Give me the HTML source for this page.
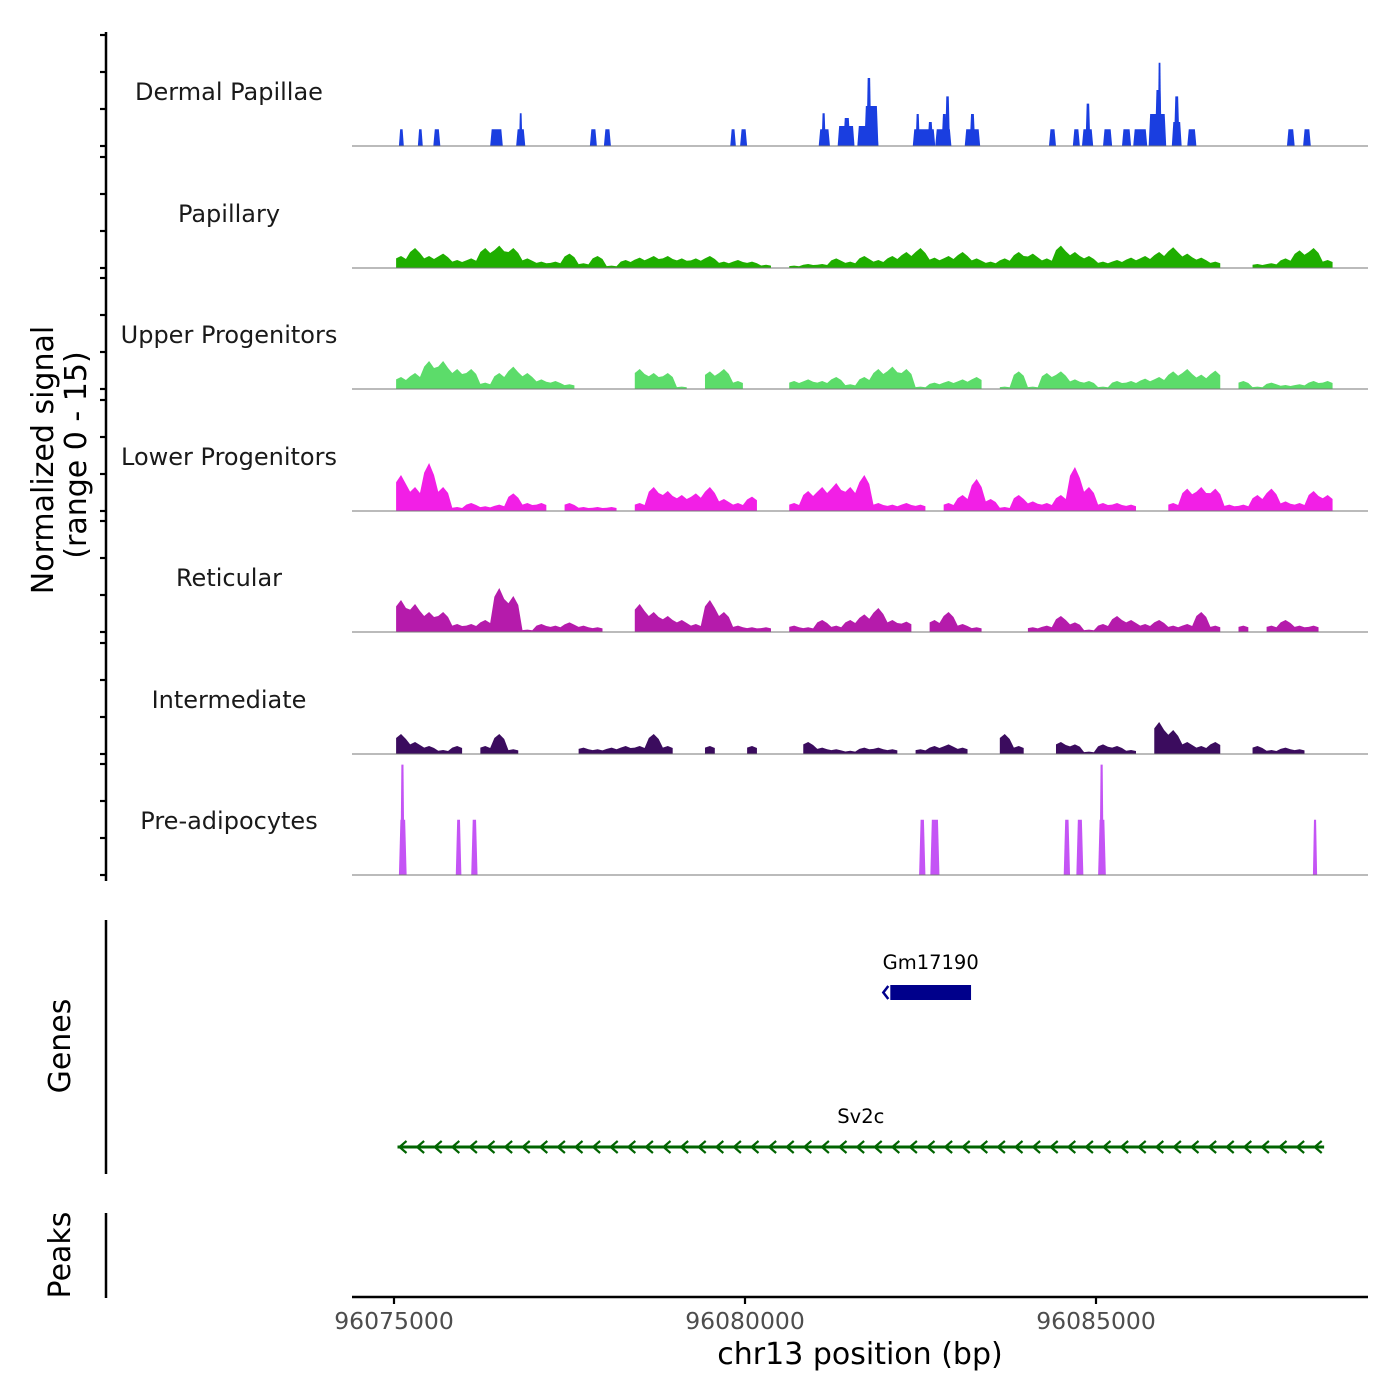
<!DOCTYPE html>
<html><head><meta charset="utf-8">
<style>
html,body{margin:0;padding:0;background:#fff;}
svg{display:block;font-family:"DejaVu Sans","Liberation Sans",sans-serif;}
</style></head>
<body>
<svg id="chart" width="1400" height="1400" viewBox="0 0 1400 1400" xmlns="http://www.w3.org/2000/svg">
  <g id="tracks"></g>
  <g id="axes"></g>
  <text transform="translate(53,460) rotate(-90)" text-anchor="middle" font-size="30" fill="#000">Normalized signal</text>
  <text transform="translate(86,455) rotate(-90)" text-anchor="middle" font-size="30" fill="#000">(range 0 - 15)</text>
  <text transform="translate(70,1046) rotate(-90)" text-anchor="middle" font-size="30" fill="#000">Genes</text>
  <text transform="translate(70,1255) rotate(-90)" text-anchor="middle" font-size="30" fill="#000">Peaks</text>
  <text x="860" y="1364" text-anchor="middle" font-size="30" fill="#000">chr13 position (bp)</text>
</svg>
<script>
// ---- data ----
const xTickValues = [96075000, 96080000, 96085000];
const yTickValues = [0, 4.625, 9.25, 13.875];
const trackNames = ["Dermal Papillae","Papillary","Upper Progenitors","Lower Progenitors","Reticular","Intermediate","Pre-adipocytes"];
const trackColors = ["#1a3ee0","#1fae00","#5cdc6a","#f21fe6","#b51bab","#3b0c5e","#c454f5"];
const binStartBp = 96075000;
const binSizeBp = 200;
const papillaryBins = [1.5,2.5,1.5,1.8,1,1.2,2.5,2.8,2.5,1.2,0.8,0.8,1.8,0.6,1.5,0.3,1,1.3,1.5,1.5,1.2,1.2,1.5,0.8,1,0.8,0.4,0,0.3,0.5,0.5,1.2,0.8,1.5,1,1.5,2,2.5,1.3,1.5,2,1.2,0.8,1.2,2,1.8,1.2,2.8,2,1.5,0.8,1,1.3,1.5,2,2.6,1.8,1.3,0.8,0,0,0.5,0.6,1.2,2.2,2.5,1];
const upperBins = [1.5,2,3.5,3.5,2.5,2.5,0.8,2,2.8,2,1.2,1,0.6,0,0,0,0,2.5,2,2,0.3,0,2.2,2.5,1,0,0,0,1,1.2,1,1.5,0.6,1.5,2.5,2.8,2.5,0.3,0.8,1,1.2,1.5,0,0.3,2.2,0.3,2,2.2,1.2,1,0.3,1,1,1.3,1.5,2.2,2.5,1.8,2.3,0,1,0.3,0.8,0.5,0.6,1,1];
const lowerBins = [4.5,3,6,3,0.5,1,0.6,0.8,2.2,1,1,0,1,0.5,0.5,0.5,0,1,3,2.5,2,2.2,3,1.5,1,1.8,0,0,1,2.5,3,3.5,3,4.5,1,0.8,1,0.8,0,1,2,4,1.5,0.5,2,1.2,1,2,5.5,3,1,1,0.8,0,0,1,2.8,3,2.8,0.8,0.8,2,2.8,1.2,1,2.5,2];
const reticularBins = [4,3.5,2.5,2.5,1,1,1.5,5.5,4.5,0.3,1,0.8,1.2,0.8,0.6,0,0,3.5,2.5,2,1.5,1,4,2.5,0.8,0.6,0.6,0,0.8,0.6,1.5,0.8,1.5,2.2,3,1.5,1.3,0,1.5,2.5,1,0.6,0,0,0,0.6,0.8,2,1.2,0.3,1,2,1.5,1,1.5,0.8,1,2.5,0.8,0,0.8,0,0.8,1.5,0.8,0.8,0];
const intermediateBins = [2.5,1.5,1,0.5,1,0,1,2.5,0.6,0,0,0,0,0.8,0.6,0.8,1,1,2.5,1,0,0,1,0,0,1,0,0,0,1.5,0.8,0.6,0.4,0.8,0.8,0.6,0,0.6,1,1.2,0.8,0,0,2.5,1,0,0,1.5,1.2,0.3,1.2,1,0.5,0,4,3,1.5,1,1.5,0,0,1,0.5,0.8,0.6,0,0];
// blocks: [start kb offset, end kb offset, value]
const dermalStarts = [0.07,0.34,0.56,1.37,1.74,1.78,2.79,2.99,4.79,4.93,6.05,6.09,6.32,6.40,6.60,6.70,6.73,7.39,7.43,7.60,7.71,7.80,7.85,8.13,8.20,9.33,9.67,9.80,9.85,10.10,10.37,10.53,10.75,10.84,10.88,11.08,11.11,11.30,12.72,12.95];
const dermalEnds   = [0.14,0.41,0.66,1.55,1.87,1.83,2.89,3.09,4.87,5.03,6.21,6.15,6.56,6.50,6.90,6.90,6.80,7.71,7.49,7.68,7.94,7.88,7.92,8.35,8.28,9.43,9.77,9.96,9.92,10.23,10.50,10.73,11.00,10.94,10.93,11.22,11.19,11.43,12.83,13.06];
const dermalValues = [2.1,2.1,2.1,2.1,2.1,4.1,2.1,2.1,2.1,2.1,2.1,4.1,2.5,3.5,2.5,5,8.5,2.1,4,3,2.1,4,6.2,2.1,4,2.1,2.1,2.1,5.3,2.1,2.1,2.1,4,7,10.4,3,6.2,2.1,2.1,2.1];
const adipoStarts = [0.07,0.09,0.88,1.10,7.48,7.64,9.54,9.72,10.03,10.05,13.09];
const adipoEnds   = [0.18,0.15,0.96,1.19,7.57,7.77,9.63,9.82,10.14,10.11,13.15];
const adipoValues = [6.9,13.8,6.9,6.9,6.9,6.9,6.9,6.9,6.9,13.8,6.9];
const genes = ["Gm17190","Sv2c"];
const geneStarts = [96082070, 96075050];
const geneEnds = [96083220, 96088250];

// ---- scales ----
const NS="http://www.w3.org/2000/svg";
const pxPerBp = 351/5000;
function xScale(bp){ return 394 + (bp-96075000)*pxPerBp; }
const trackBaselines = [146,268,389,511,632,754,875];
function yScale(v, t){ return trackBaselines[t] - v*8; }
function mk(tag, attrs, parent){ const e=document.createElementNS(NS,tag); for(const k in attrs) e.setAttribute(k,attrs[k]); parent.appendChild(e); return e; }

const tracksG=document.getElementById('tracks');
const axesG=document.getElementById('axes');

function drawBins(bins, t){
  let runs=[]; let cur=null;
  bins.forEach((v,i)=>{
    if(v>0){ if(!cur){cur=[];runs.push(cur);} cur.push([i,v]); } else cur=null;
  });
  runs.forEach(run=>{
    const s=run[0][0], e=run[run.length-1][0];
    let d=`M${xScale(binStartBp+s*binSizeBp+30)},${trackBaselines[t]}`;
    run.forEach(([i,v])=>{
      const x0=xScale(binStartBp+i*binSizeBp+30), x1=xScale(binStartBp+(i+0.5)*binSizeBp), x2=xScale(binStartBp+(i+1)*binSizeBp-30);
      d+=` L${x0},${yScale(v*0.8,t)} L${x1},${yScale(v,t)} L${x2},${yScale(v*0.75,t)}`;
    });
    d+=` L${xScale(binStartBp+(e+1)*binSizeBp-30)},${trackBaselines[t]} Z`;
    const p=mk('path',{d:d,fill:trackColors[t]},tracksG);
    
    
  });
}
function drawBlocks(starts, ends, vals, t){
  starts.forEach((s,i)=>{
    const x0=xScale(96075000+s*1000), x1=xScale(96075000+ends[i]*1000);
    const tp=Math.min(1.5,(x1-x0)/4);
    const y=yScale(vals[i],t), b=trackBaselines[t];
    const p=mk('polygon',{points:`${x0},${b} ${x0+tp},${y} ${x1-tp},${y} ${x1},${b}`,fill:trackColors[t]},tracksG);
    
    
  });
}
drawBlocks(dermalStarts, dermalEnds, dermalValues, 0);
drawBins(papillaryBins,1);
drawBins(upperBins,2);
drawBins(lowerBins,3);
drawBins(reticularBins,4);
drawBins(intermediateBins,5);
drawBlocks(adipoStarts, adipoEnds, adipoValues, 6);

trackNames.forEach((n,t)=>{
  const l=mk('line',{x1:352,x2:1368,y1:trackBaselines[t],y2:trackBaselines[t],stroke:'#777','stroke-width':1},tracksG);
  
  
  const tx=mk('text',{x:229,y:trackBaselines[t]-46,'text-anchor':'middle','font-size':24,fill:'#1a1a1a'},tracksG);
  tx.textContent=n;
  
  
  yTickValues.forEach(v=>{
    const tk=mk('line',{x1:100,x2:106,y1:trackBaselines[t]-v*8,y2:trackBaselines[t]-v*8,stroke:'#000','stroke-width':2.2},axesG);
    
    
  });
});
[[32,881],[920,1174],[1213,1298]].forEach(([a,b])=>{
  const l=mk('line',{x1:106,x2:106,y1:a,y2:b,stroke:'#000','stroke-width':2.5},axesG);
  
  
});
const xa=mk('line',{x1:352,x2:1368,y1:1297,y2:1297,stroke:'#000','stroke-width':2.5},axesG);


xTickValues.forEach(v=>{
  const tk=mk('line',{x1:xScale(v),x2:xScale(v),y1:1297,y2:1304,stroke:'#000','stroke-width':2.2},axesG);
  
  
  const tx=mk('text',{x:xScale(v),y:1329,'text-anchor':'middle','font-size':23.5,fill:'#4d4d4d'},axesG);
  tx.textContent=String(v);
  
  
});
const gm0=xScale(geneStarts[0]), gm1=xScale(geneEnds[0]);
const g1=mk('rect',{x:gm0,y:985,width:gm1-gm0,height:15,fill:'#00008b'},axesG);


const g1a=mk('path',{d:`M${gm0-2},986 L${gm0-7},992.5 L${gm0-2},999`,fill:'none',stroke:'#00008b','stroke-width':2.5},axesG);


const g1t=mk('text',{x:(gm0+gm1)/2,y:969,'text-anchor':'middle','font-size':19.5,fill:'#000'},axesG);
g1t.textContent=genes[0];


const sv0=xScale(geneStarts[1]), sv1=xScale(geneEnds[1]);
const g2=mk('line',{x1:sv0,x2:sv1,y1:1147,y2:1147,stroke:'#006400','stroke-width':3},axesG);


let ad='';
for(let x=sv0+2;x<sv1-8;x+=17.6){ ad+=`M${x+7},1141 L${x},1147 L${x+7},1153 `; }
const g2a=mk('path',{d:ad,fill:'none',stroke:'#006400','stroke-width':2.2},axesG);


const g2t=mk('text',{x:(sv0+sv1)/2,y:1123,'text-anchor':'middle','font-size':19.5,fill:'#000'},axesG);
g2t.textContent=genes[1];


</script>
</body></html>
